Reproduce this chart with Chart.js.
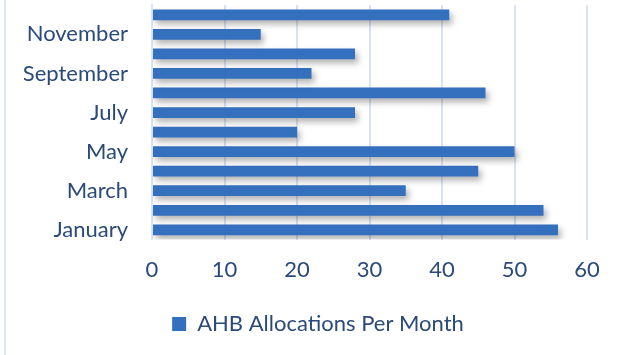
<!DOCTYPE html>
<html>
<head>
<meta charset="utf-8">
<script src="https://cdn.jsdelivr.net/npm/chart.js@4/dist/chart.umd.min.js"></script>
<style>
    body { margin: 0; background: #fff; }
    #wrap { position: relative; width: 625px; height: 355px; }
    #wrap::before { content: ''; position: absolute; left: 4px; top: 0; bottom: 0; width: 2px; background: #dde7f4; }
</style>
</head>
<body>
<div id="wrap"><canvas id="chart" width="625" height="355"></canvas></div>
<script>
// Monthly allocations, January first (drawn at the bottom)
const months = ['January', 'February', 'March', 'April', 'May', 'June',
    'July', 'August', 'September', 'October', 'November', 'December'];
const allocations = [56, 54, 35, 45, 50, 20, 28, 46, 22, 28, 15, 41];
const xTicks = [0, 10, 20, 30, 40, 50, 60];

const textColor = '#2a4a7a';
const gridColor = '#d9e4f3';

// Soft drop shadow under the bars
const barShadow = {
    id: 'barShadow',
    beforeDatasetsDraw(chart) {
        const ctx = chart.ctx;
        ctx.save();
        ctx.shadowColor = 'rgba(0, 0, 0, 0.3)';
        ctx.shadowBlur = 6;
        ctx.shadowOffsetX = 3;
        ctx.shadowOffsetY = 4;
    },
    afterDatasetsDraw(chart) {
        chart.ctx.restore();
    }
};

new Chart(document.getElementById('chart').getContext('2d'), {
    type: 'bar',
    data: {
        labels: months,
        datasets: [{
            label: 'AHB Allocations Per Month',
            data: allocations,
            backgroundColor: '#3570bf',
            borderWidth: 0,
            categoryPercentage: 1,
            barPercentage: 0.55
        }]
    },
    options: {
        indexAxis: 'y',
        responsive: false,
        animation: false,
        layout: { padding: { top: 5, right: 13, left: 24, bottom: 10 } },
        scales: {
            x: {
                min: 0,
                max: 60,
                afterBuildTicks: axis => { axis.ticks = xTicks.map(v => ({ value: v })); },
                afterFit: axis => { axis.paddingRight = 38; },
                grid: { color: gridColor, lineWidth: 2, drawTicks: false },
                border: { display: false },
                ticks: { color: textColor, font: { family: 'Lato', size: 22 }, padding: 17 }
            },
            y: {
                reverse: true,
                grid: { display: false },
                border: { color: gridColor, width: 2 },
                afterFit: axis => { axis.width = 128; axis.paddingTop = 0; axis.paddingBottom = 0; },
                ticks: {
                    color: textColor,
                    font: { family: 'Lato', size: 22 },
                    padding: 16,
                    autoSkip: false,
                    callback: (v, i) => (i % 2 === 0 ? months[i] : '')
                }
            }
        },
        plugins: {
            legend: {
                position: 'bottom',
                labels: {
                    color: textColor,
                    font: { family: 'Lato', size: 22 },
                    boxWidth: 14,
                    boxHeight: 14,
                    padding: 13
                }
            },
            tooltip: { enabled: false }
        }
    },
    plugins: [barShadow]
});
</script>
</body>
</html>
